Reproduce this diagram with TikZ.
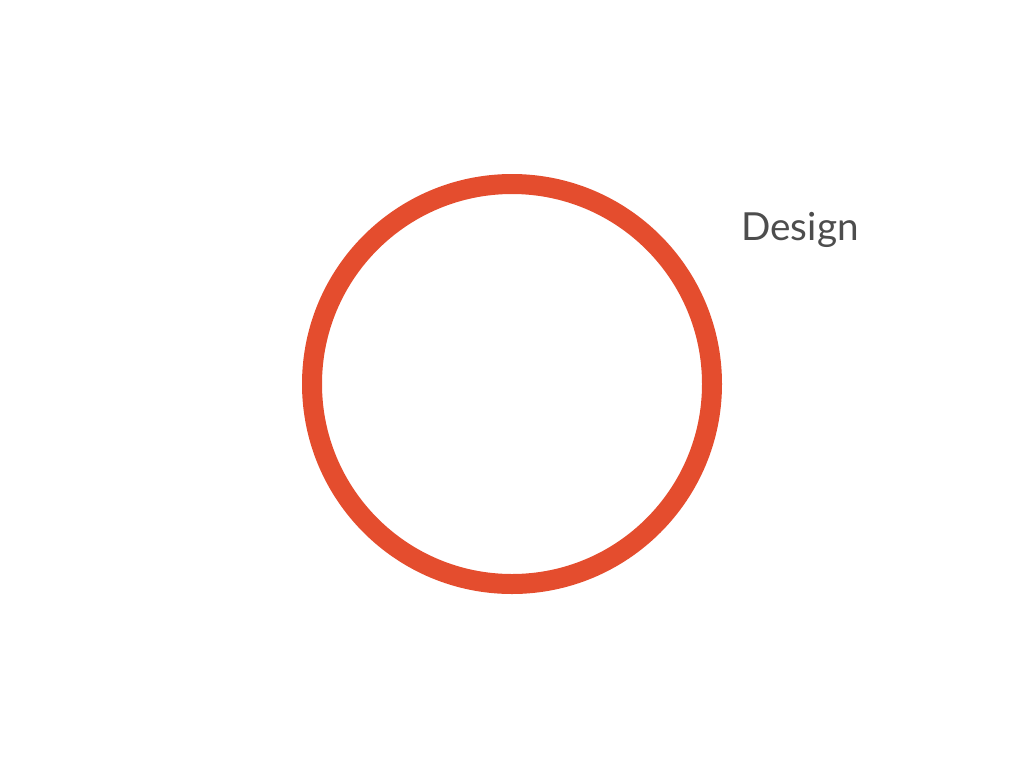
\documentclass[tikz,border=0pt]{standalone}
\usepackage{fontspec}
\setmainfont{Lato}
\usetikzlibrary{positioning}
\definecolor{ringc}{HTML}{E44D2E}
\definecolor{txtc}{HTML}{4D4D4D}

\begin{document}
\begin{tikzpicture}[x=0.75pt, y=-0.75pt]
    \useasboundingbox (0,0) rectangle (1024,768);
    % the ring
    \node[circle, draw=ringc, line width=15pt, minimum size=300pt,
          inner sep=0pt] (ring) at (512,384) {};
    % its label
    \node[anchor=base, text=txtc, font=\fontsize{29}{34}\selectfont,
          inner sep=0pt] (design) at (800,240) {Design};
\end{tikzpicture}
\end{document}
